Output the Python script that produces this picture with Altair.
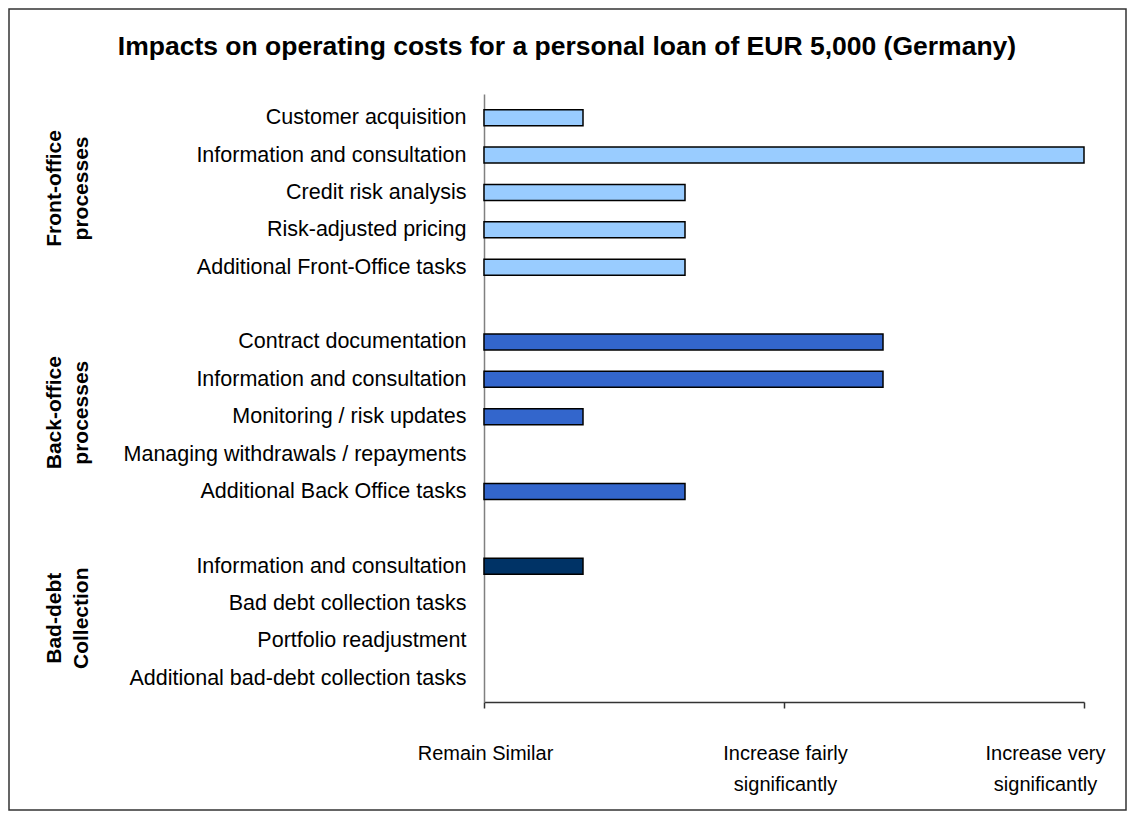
import json
import altair as alt
import pandas as pd

# ---------------- data ----------------
title_text = "Impacts on operating costs for a personal loan of EUR 5,000 (Germany)"
group_names = ["Front-office\nprocesses", "Back-office\nprocesses", "Bad-debt\nCollection"]
categories = [
    "Customer acquisition",
    "Information and consultation",
    "Credit risk analysis",
    "Risk-adjusted pricing",
    "Additional Front-Office tasks",
    "Contract documentation",
    "Information and consultation",
    "Monitoring / risk updates",
    "Managing withdrawals / repayments",
    "Additional Back Office tasks",
    "Information and consultation",
    "Bad debt collection tasks",
    "Portfolio readjustment",
    "Additional bad-debt collection tasks",
]
group_of = [0, 0, 0, 0, 0, 1, 1, 1, 1, 1, 2, 2, 2, 2]
values = [0.33, 2.0, 0.67, 0.67, 0.67, 1.33, 1.33, 0.33, 0.0, 0.67, 0.33, 0.0, 0.0, 0.0]
x_ticks = [0, 1, 2]
x_tick_labels = [["Remain Similar"], ["Increase fairly", "significantly"], ["Increase very", "significantly"]]
colors = ["#99CCFF", "#3366CC", "#003366"]

# ---------------- tables ----------------
# one empty row between groups
rows = [i + g for i, g in enumerate(group_of)]
n_rows = rows[-1] + 1
row_labels = [""] * n_rows
for r, c in zip(rows, categories):
    row_labels[r] = c

df = pd.DataFrame({
    "category": categories,
    "group": [group_names[g] for g in group_of],
    "row": rows,
    "value": values,
})
df_bars = df[df["value"] > 0]

gdf = pd.DataFrame({
    "group": group_names,
    "mid": [sum(r for r, g in zip(rows, group_of) if g == k) / group_of.count(k) for k in range(len(group_names))],
})

FONT = "Liberation Sans"
W, H = 600, 608
PAD_L, PAD_T, PAD_R, PAD_B = 476, 86, 43, 109

x_scale = alt.Scale(domain=[0, 2], nice=False, zero=False)
y_scale = alt.Scale(domain=[-0.5, n_rows - 0.5], nice=False, zero=False, reverse=True)

y_axis = alt.Axis(
    values=rows,
    labelExpr=json.dumps(row_labels) + "[datum.value]",
    ticks=False,
    grid=False,
    title=None,
    domainColor="#808080",
    domainWidth=1.5,
    labelPadding=18,
    labelFontSize=21.5,
    labelFont=FONT,
    labelColor="#000000",
    labelOverlap=False,
    labelFlush=False,
    labelLimit=0,
)
x_axis = alt.Axis(
    values=x_ticks,
    labelExpr=json.dumps(x_tick_labels) + "[datum.value]",
    grid=False,
    title=None,
    domainColor="#333333",
    domainWidth=1.5,
    tickColor="#333333",
    tickWidth=1.5,
    tickSize=6,
    labelPadding=45,
    labelBaseline="middle",
    labelAlign="center",
    labelLineHeight=31,
    labelFontSize=20,
    labelFont=FONT,
    labelColor="#000000",
    labelFlush=False,
    labelOverlap=False,
    labelBound=False,
    labelLimit=0,
    labelOffset={"condition": {"test": "datum.value == 2", "value": -39}, "value": 1},
)

bars = alt.Chart(df_bars).mark_bar(
    orient="horizontal", size=16, stroke="#000000", strokeWidth=1.5
).encode(
    x=alt.X("value:Q", scale=x_scale, axis=x_axis),
    x2=alt.datum(0),
    y=alt.Y("row:Q", scale=y_scale, axis=y_axis),
    color=alt.Color("group:N", scale=alt.Scale(domain=group_names, range=colors), legend=None),
)

groups = alt.Chart(gdf).mark_text(
    angle=270, align="center", baseline="middle", lineBreak="\n", lineHeight=27,
    fontSize=21, fontWeight="bold", font=FONT, color="#000000", dx=4,
).encode(
    x=alt.value(-429),
    y=alt.Y("mid:Q", scale=y_scale),
    text="group:N",
)

title = alt.Chart(pd.DataFrame({"t": [title_text]})).mark_text(
    fontSize=26.5, fontWeight="bold", font=FONT, color="#000000", align="center", baseline="alphabetic"
).encode(
    x=alt.value(83), y=alt.value(-39), text="t:N"
)

frame = alt.Chart(pd.DataFrame({"k": [0]})).mark_rect(
    filled=False, stroke="#333333", strokeWidth=1.5
).encode(
    x=alt.value(-PAD_L + 1), x2=alt.value(W + PAD_R - 1),
    y=alt.value(-PAD_T + 1), y2=alt.value(H + PAD_B - 1),
)

chart = alt.layer(frame, bars, groups, title).properties(
    width=W, height=H,
    padding={"left": PAD_L, "top": PAD_T, "right": PAD_R, "bottom": PAD_B},
    autosize=alt.AutoSizeParams(type="none"),
    background="#FFFFFF",
).configure_view(stroke=None)

chart.save("out.html", embed_options={"renderer": "svg", "actions": False})
